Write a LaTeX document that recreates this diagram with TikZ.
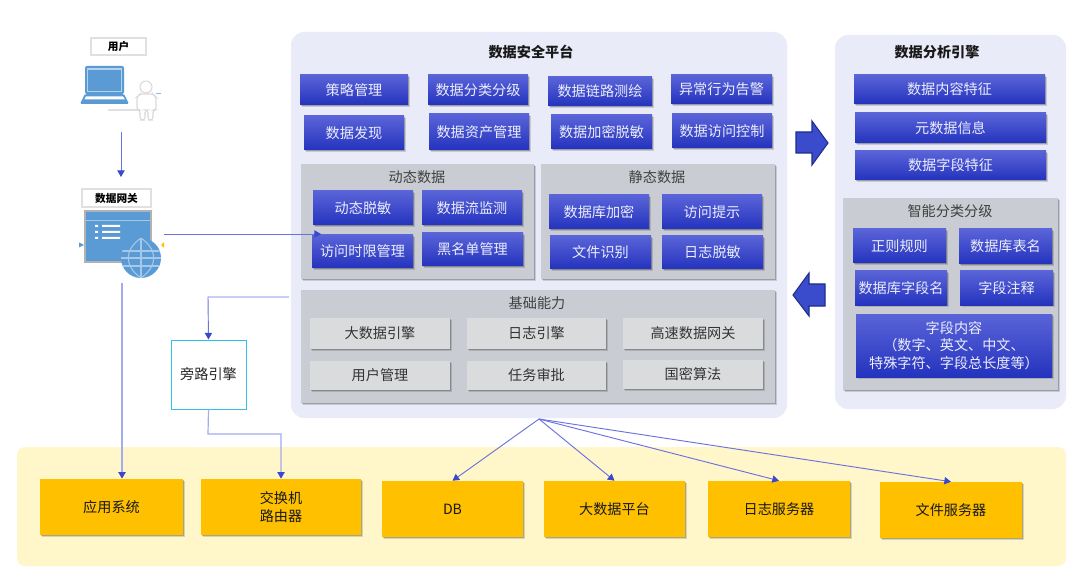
\documentclass[tikz,border=0pt]{standalone}
\usepackage{fontspec}
\setmainfont{Noto Sans CJK SC}
\usetikzlibrary{shadows,arrows.meta}
\definecolor{panelbg}{HTML}{E9EBF8}
\definecolor{greybg}{HTML}{C9CCD2}
\definecolor{lightgrey}{HTML}{DADBDC}
\definecolor{bluetop}{HTML}{5A64D8}
\definecolor{bluebot}{HTML}{2433BE}
\definecolor{bluetext}{HTML}{ECEEFC}
\definecolor{yellowbg}{HTML}{FFF6C9}
\definecolor{amber}{HTML}{FFC000}
\definecolor{iconblue}{HTML}{5B9BD5}
\definecolor{line}{HTML}{6A72E0}
\definecolor{linelight}{HTML}{A4ACEE}
\definecolor{tip}{HTML}{3A48CC}
\definecolor{cyanb}{HTML}{2FC0EA}
\definecolor{arrowfill}{HTML}{3A4CCB}
\definecolor{arrowline}{HTML}{1F2E8E}
\tikzset{
 x=.75pt,y=-.75pt,
 base/.style={inner sep=0pt,align=center,font=\fontsize{10.6}{13}\selectfont},
 softshadow/.style={
  drop shadow={shadow xshift=1.6pt,shadow yshift=-1.6pt,fill=black,opacity=.14},
  drop shadow={shadow xshift=.9pt,shadow yshift=-.9pt,fill=black,opacity=.22}},
 panel/.style={base,rounded corners=10pt,fill=panelbg},
 greypanel/.style={base,fill=greybg,softshadow},
 bluebox/.style={base,top color=bluetop,bottom color=bluebot,text=bluetext,softshadow},
 lightbox/.style={base,fill=lightgrey,text=black!80,softshadow},
 ambox/.style={base,fill=amber,text=black!90,softshadow},
 tag/.style={base,draw=black!12,line width=.9pt,fill=white,font=\fontsize{8}{10}\selectfont\bfseries},
 title/.style={base,font=\fontsize{10.6}{13}\selectfont\bfseries,text=black!90},
 sub/.style={base,text=black!75},
 conn/.style={line,line width=.7pt,-{Triangle[length=5pt,width=5.5pt,color=tip]}},
 connlight/.style={linelight,line width=1.1pt,-{Triangle[length=5pt,width=5.5pt,color=tip]}},
 bigarrow/.style={draw=arrowline,fill=arrowfill,line width=.8pt,line join=miter},
}
\newcommand\bx[7]{%
 \pgfmathsetmacro\bxw{(#5-#3)*.75}%
 \pgfmathsetmacro\bxh{(#6-#4)*.75}%
 \pgfmathsetmacro\bxx{(#3+#5)/2}%
 \pgfmathsetmacro\bxy{(#4+#6)/2}%
 \node[#1,minimum width=\bxw pt,minimum height=\bxh pt] (#2) at (\bxx,\bxy) {#7};%
}
\begin{document}
\begin{tikzpicture}
\useasboundingbox (0,0) rectangle (1080,573);
\fill[white] (0,0) rectangle (1080,573);
% large panels
\bx{panel}{platform}{291}{32}{787}{418}{}
\bx{panel}{engine}{835}{35}{1066}{409}{}
\bx{base,rounded corners=6pt,fill=yellowbg}{store}{17}{447}{1066}{566}{}
\node[title] (ptitle) at (531,52) {数据安全平台};
\node[title] (etitle) at (937,52) {数据分析引擎};
% platform rows
\bx{bluebox}{a1}{300}{75}{408}{105}{策略管理}
\bx{bluebox}{a2}{428}{75}{528}{105}{数据分类分级}
\bx{bluebox}{a3}{548}{77}{652}{106}{数据链路测绘}
\bx{bluebox}{a4}{671}{75}{772}{104}{异常行为告警}
\bx{bluebox}{b1}{304}{116}{404}{150}{数据发现}
\bx{bluebox}{b2}{429}{114}{529}{150}{数据资产管理}
\bx{bluebox}{b3}{551}{115}{652}{149}{数据加密脱敏}
\bx{bluebox}{b4}{672}{114}{772}{148}{数据访问控制}
% dynamic
\bx{greypanel}{dyn}{301}{164}{534}{279}{}
\node[sub] (dynt) at (417,177) {动态数据};
\bx{bluebox}{d1}{313}{191}{413}{225}{动态脱敏}
\bx{bluebox}{d2}{422}{191}{522}{225}{数据流监测}
\bx{bluebox}{d3}{312}{235}{413}{268}{访问时限管理}
\bx{bluebox}{d4}{422}{233}{523}{266}{黑名单管理}
% static
\bx{greypanel}{sta}{541}{164}{775}{279}{}
\node[sub] (stat) at (657,177) {静态数据};
\bx{bluebox}{s1}{549}{195}{649}{229}{数据库加密}
\bx{bluebox}{s2}{662}{195}{762}{229}{访问提示}
\bx{bluebox}{s3}{550}{236}{651}{269}{文件识别}
\bx{bluebox}{s4}{662}{236}{763}{269}{日志脱敏}
% base capability
\bx{greypanel}{cap}{301}{290}{775}{403}{}
\node[sub] (capt) at (537,303) {基础能力};
\bx{lightbox}{c1}{310}{318}{450}{349}{大数据引擎}
\bx{lightbox}{c2}{467}{318}{606}{349}{日志引擎}
\bx{lightbox}{c3}{623}{318}{763}{349}{高速数据网关}
\bx{lightbox}{c4}{310}{361}{450}{390}{用户管理}
\bx{lightbox}{c5}{467}{361}{606}{390}{任务审批}
\bx{lightbox}{c6}{623}{360}{763}{389}{国密算法}
% engine
\bx{bluebox}{e1}{854}{75}{1045}{104}{数据内容特征}
\bx{bluebox}{e2}{855}{113}{1046}{143}{元数据信息}
\bx{bluebox}{e3}{855}{151}{1046}{180}{数据字段特征}
\bx{greypanel}{smart}{843}{198}{1058}{390}{}
\node[sub] (smartt) at (950,211) {智能分类分级};
\bx{bluebox}{f1}{853}{229}{946}{263}{正则规则}
\bx{bluebox}{f2}{959}{229}{1052}{264}{数据库表名}
\bx{bluebox}{f3}{855}{271}{947}{305}{数据库字段名}
\bx{bluebox}{f4}{960}{271}{1053}{305}{字段注释}
\bx{bluebox}{f5}{856}{314}{1052}{377}{字段内容\\（数字、英文、中文、\\特殊字符、字段总长度等）}
% block arrows
\draw[bigarrow] (796,132)--(812,132)--(812,121)--(828,143)--(812,165)--(812,153)--(796,153)--cycle;
\draw[bigarrow] (825,284)--(809,284)--(809,273)--(793,295)--(809,316)--(809,306)--(825,306)--cycle;
% storage boxes
\bx{ambox}{app}{40}{479}{183}{535}{应用系统}
\bx{ambox}{sw}{201}{479}{361}{535}{交换机\\路由器}
\bx{ambox}{db}{382}{481}{523}{537}{DB}
\bx{ambox}{big}{544}{481}{685}{537}{大数据平台}
\bx{ambox}{log}{708}{481}{850}{537}{日志服务器}
\bx{ambox}{file}{880}{482}{1022}{538}{文件服务器}
% bypass
\bx{base,draw=cyanb,line width=.75pt,fill=white,text=black!85}{bypass}{171}{340}{246}{409}{旁路引擎}
% user icons
\bx{tag}{user}{91}{38}{146}{55}{用户}
\bx{tag}{gw}{82}{189}{151}{207}{数据网关}
\fill[iconblue,rounded corners=1.5pt] (85,66) rectangle (124,94);
\draw[white!55!iconblue,line width=.8pt] (87.5,69) rectangle (121.5,91.5);
\fill[iconblue,rounded corners=1pt] (85,94)--(124,94)--(129,104)--(80,104)--cycle;
\fill[white] (86,96.5)--(123,96.5)--(125,99.5)--(84.5,99.5)--cycle;
\draw[black!12,line width=.8pt] (108,110)--(137,110);
\draw[black!15,line width=.8pt,fill=white,rounded corners=2pt] (137,110)--(137,97)--(140,94)--(153,94)--(156,97)--(156,110)--(153,110)--(153,120)--(148,120)--(148,110)--(145,110)--(145,120)--(140,120)--(140,110)--cycle;
\draw[black!15,line width=.8pt,fill=white] (146,87) circle[radius=6];
\draw[iconblue!70,line width=.7pt] (156,93.5)--(161,93.5);
% gateway icon
\fill[iconblue] (85,211) rectangle (151,262);
\draw[black!30,line width=.8pt] (85,211) rectangle (151,262);
\draw[white!45!iconblue,line width=.8pt] (86,220.5)--(150,220.5);
\fill[white] (95,225) rectangle (98,227) (95,231) rectangle (98,233) (95,237) rectangle (98,239);
\fill[white] (102,225) rectangle (120,227) (102,231) rectangle (120,233) (102,237) rectangle (120,239);
\fill[iconblue] (141,258) circle[radius=20];
\begin{scope}
\clip (141,258) circle[radius=20];
\draw[white!45!iconblue,line width=.8pt] (121,251)--(161,251) (121,258)--(161,258) (121,266)--(161,266) (141,238)--(141,278);
\draw[white!45!iconblue,line width=.8pt] (141,238) .. controls (124,250) and (124,266) .. (141,278);
\draw[white!45!iconblue,line width=.8pt] (141,238) .. controls (158,250) and (158,266) .. (141,278);
\end{scope}
\fill[iconblue] (79,242.5)--(84,245)--(79,247.5)--cycle;
\fill[amber] (164,242)--(161,245)--(164,248)--cycle;
% connector anchors
\coordinate (fan) at (539,419);
\coordinate (gwout) at (164,234);
\coordinate (gwtip) at (321,234);
\coordinate (gwdown) at (122,283);
\coordinate (usrout) at (121,132);
\coordinate (gwin) at (121,177);
\coordinate (capout) at (289,297);
\coordinate (byin) at (208,297);
\coordinate (bridge) at (208,434);
% connectors
\draw[conn] (usrout)--(gwin);
\draw[conn] (gwout)--(gwtip);
\draw[connlight] (gwdown)--(app.north -| gwdown);
\draw[conn] (capout)--(byin)--(bypass.north);
\draw[connlight,line width=.9pt] (bypass.south)--(bridge)--(bridge -| sw.north)--(sw.north);
\draw[conn] (fan)--(db.north);
\draw[conn] (fan)--(big.north);
\draw[conn] (fan)--(log.north);
\draw[conn] (fan)--(file.north);
\end{tikzpicture}
\end{document}
